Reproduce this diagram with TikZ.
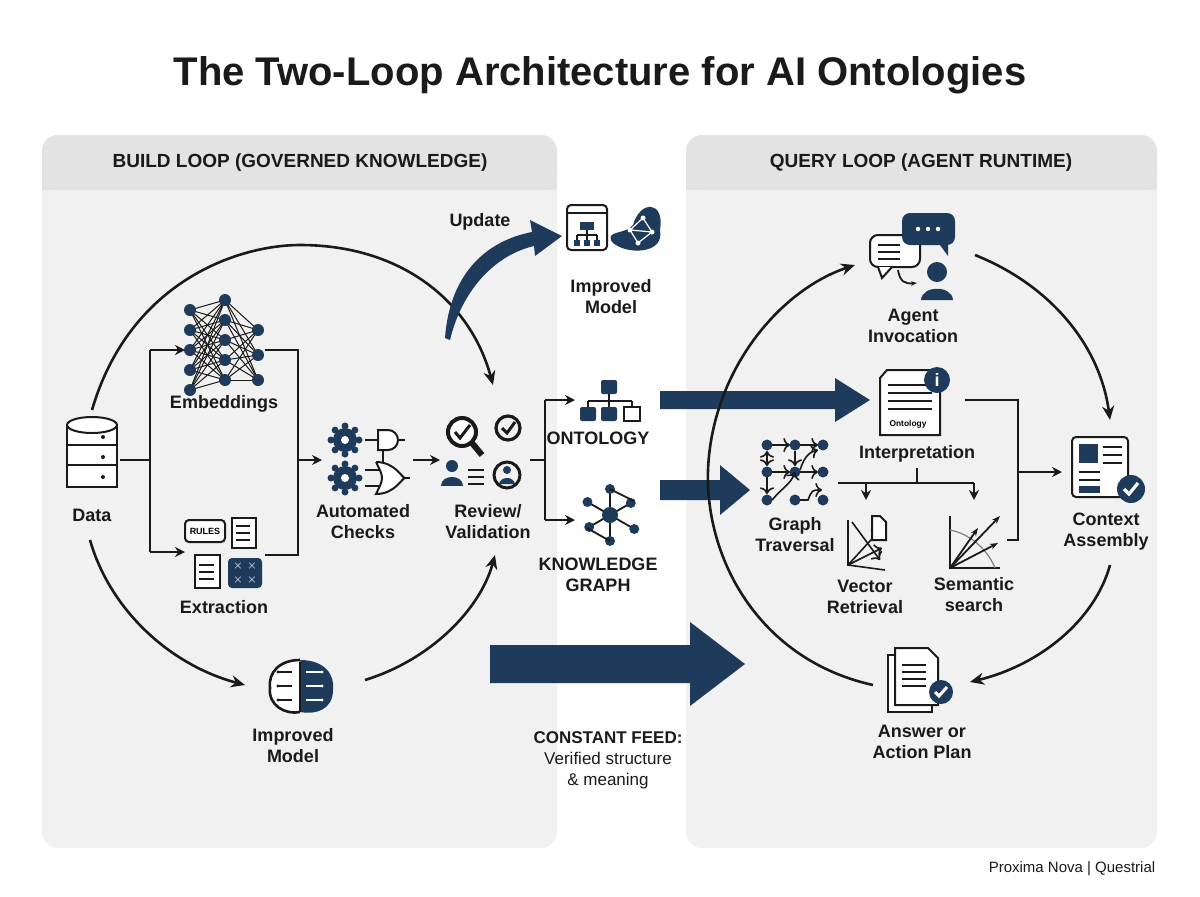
\documentclass[tikz,border=0pt]{standalone}
\usepackage{fontspec}
\setmainfont{Liberation Sans}
\usetikzlibrary{arrows.meta,calc}
\definecolor{navy}{HTML}{1F3B5C}
\definecolor{panel}{HTML}{F1F1F1}
\definecolor{head}{HTML}{E3E3E3}
\definecolor{ink}{HTML}{1A1A1A}
\begin{document}
\begin{tikzpicture}[x=0.5pt,y=-0.5pt,
  lab/.style={font=\fontsize{9}{10.5}\selectfont\bfseries,text=ink,align=center},
  hdr/.style={font=\fontsize{9.5}{11}\selectfont\bfseries,text=ink},
  loop/.style={draw=ink,line width=1.3pt,-{Stealth[length=7pt,width=6pt]}},
  con/.style={draw=ink,line width=1.1pt},
  cona/.style={con,-{Stealth[length=5pt,width=5pt]}},
  ic/.style={draw=ink,line width=1pt},
  big/.style={fill=navy,draw=none}]
\useasboundingbox (0,0) rectangle (1200,896);
\fill[white] (0,0) rectangle (1200,896);
\node[font=\fontsize{20}{24}\selectfont\bfseries,text=ink] (title) at (600,75) {The Two-Loop Architecture for AI Ontologies};
% panels
\fill[panel,rounded corners=8pt] (42,135) rectangle (557,848);
\fill[head,rounded corners=8pt] (42,135) rectangle (557,190);
\fill[head] (42,170) rectangle (557,190);
\fill[panel,rounded corners=8pt] (686,135) rectangle (1157,848);
\fill[head,rounded corners=8pt] (686,135) rectangle (1157,190);
\fill[head] (686,170) rectangle (1157,190);
\node[hdr] (h1) at (300,163) {BUILD LOOP (GOVERNED KNOWLEDGE)};
\node[hdr] (h2) at (921,163) {QUERY LOOP (AGENT RUNTIME)};

% ---------- left loop arcs
\draw[loop] (92,410) .. controls (130,280) and (240,245) .. (300,245) .. controls (400,245) and (470,300) .. (493,385);
\draw[loop] (90,540) .. controls (110,610) and (170,665) .. (245,685);
\draw[loop] (365,680) .. controls (430,660) and (480,610) .. (495,555);

% Data icon
\foreach \yy in {425,445,465}{\draw[ic,fill=white] (67,\yy) rectangle (117,\yy+22);}
\draw[ic,fill=white] (92,425) ellipse (25 and 8);
\foreach \yy in {437,457,477}\fill[ink] (103,\yy) circle (2);
\node[lab] (data) at (92,515) {Data};
% branch
\draw[con] (120,460) -- (150,460);
\draw[con] (150,350) -- (150,552);
\draw[cona] (150,350) -- (185,350);
\draw[cona] (150,552) -- (185,552);
% embeddings net
\foreach \a in {310,330,350,370,390}\foreach \b in {300,320,340,360,380}\draw[ink,line width=0.5pt](190,\a)--(225,\b);
\foreach \a in {300,320,340,360,380}\foreach \b in {330,355,380}\draw[ink,line width=0.5pt](225,\a)--(258,\b);
\foreach \y in {310,330,350,370,390}\fill[navy] (190,\y) circle (6);
\foreach \y in {300,320,340,360,380}\fill[navy] (225,\y) circle (6);
\foreach \y in {330,355,380}\fill[navy] (258,\y) circle (6);
\node[lab] (emb) at (224,404) {Embeddings};
% extraction icon
\draw[ic,fill=white,rounded corners=2pt] (185,520) rectangle (225,542);
\node[font=\fontsize{4.5}{5}\selectfont\bfseries] (rules) at (205,531) {RULES};
\draw[ic,fill=white] (232,518) rectangle (256,548);
\foreach \y in {526,533,540}\draw[ink,line width=0.7pt](236,\y)--(250,\y);
\draw[ic,fill=white] (195,555) rectangle (220,588);
\foreach \y in {565,572,579}\draw[ink,line width=0.7pt](199,\y)--(214,\y);
\fill[navy,rounded corners=2pt] (228,558) rectangle (262,588);
\foreach \px/\py in {238/566,252/566,238/580,252/580}\node[text=white,font=\tiny] at (\px,\py) {$\times$};
\node[lab] (ext) at (224,607) {Extraction};
% merge
\draw[con] (265,350) -- (298,350) -- (298,555) -- (265,555);
\draw[cona] (298,460) -- (322,460);
% gears icon
\foreach \gy in {440,478}{
  \fill[navy] (345,\gy) circle (12);
  \foreach \a in {0,45,...,315}\fill[navy] (345,\gy) ++(\a:14) circle (3.5);
  \fill[white] (345,\gy) circle (4);}
\draw[ic] (365,440) -- (378,440); \draw[ic,fill=white] (378,430) -- (388,430) arc (-90:90:10) -- (378,450) -- cycle; \draw[ic] (398,440)--(405,440);
\draw[ic] (365,470) -- (380,470); \draw[ic] (365,486) -- (380,486);
\draw[ic,fill=white] (376,462) .. controls (395,462) and (402,478) .. (405,478) .. controls (402,478) and (395,494) .. (376,494) .. controls (384,478) .. (376,462);
\draw[ic] (405,478)--(410,478); \draw[ic] (383,450)--(383,462);
\node[lab] (auto) at (363,522) {Automated\\Checks};
\draw[cona] (413,460) -- (440,460);
% review icon
\draw[ic,line width=2pt,fill=white] (462,432) circle (14);
\draw[ink,line width=1.5pt] (455,432)--(460,438)--(470,425);
\draw[ink,line width=3pt] (472,443)--(482,455);
\draw[ic,line width=1.6pt] (508,428) circle (12); \draw[ink,line width=1.5pt] (502,428)--(507,433)--(515,422);
\fill[navy] (452,466) circle (6); \fill[navy] (441,486) .. controls (441,474) and (463,474) .. (463,486) -- cycle;
\foreach \y in {470,477,484}\draw[ink,line width=1pt] (468,\y)--(484,\y);
\draw[ic,line width=1.5pt] (507,475) circle (13); \fill[navy] (507,470) circle (4); \fill[navy] (499,484) .. controls (500,476) and (514,476) .. (515,484) -- cycle;
\node[lab] (rev) at (488,522) {Review/\\Validation};
% split right
\draw[con] (530,460) -- (545,460);
\draw[con] (545,400) -- (545,520);
\draw[cona] (545,400) -- (575,400);
\draw[cona] (545,520) -- (575,520);
% ontology tree
\fill[navy,rounded corners=1pt] (601,380) rectangle (617,394);
\draw[ic] (609,394)--(609,401) (588,401)--(632,401) (588,401)--(588,407) (609,401)--(609,407) (632,401)--(632,407);
\foreach \x in {588,609}\fill[navy,rounded corners=1pt] (\x-8,407) rectangle (\x+8,421);
\draw[ic,fill=white] (624,407) rectangle (640,421);
\node[lab] (onto) at (598,438) {ONTOLOGY};
% KG
\foreach \a/\rr in {90/26,30/28,-30/24,-90/26,210/26,150/24}{\draw[ink,line width=0.9pt] (610,515) -- ++(\a:\rr); \fill[navy] (610,515) ++(\a:\rr) circle (5);}
\draw[ink,line width=0.9pt] (610,489)--(634,501) (610,541)--(587,528);
\fill[navy] (610,515) circle (8);
\node[lab] (kg) at (598,575) {KNOWLEDGE\\GRAPH};
% improved model top
\draw[ic,fill=white,rounded corners=2pt] (567,205) rectangle (607,250);
\draw[ic] (567,213)--(607,213);
\fill[navy] (580,222) rectangle (594,230);
\draw[ic] (587,230)--(587,235) (577,235)--(597,235) (577,235)--(577,240) (597,235)--(597,240) (587,235)--(587,240);
\foreach \x in {577,587,597}\fill[navy] (\x-3,240) rectangle (\x+3,246);
\fill[navy] (633,225) .. controls (640,200) and (665,200) .. (660,230) .. controls (665,255) and (625,255) .. (612,242) .. controls (605,230) and (625,235) .. (633,225);
\foreach \px/\py in {630/230,643/218,652/232,638/243}\fill[white] (\px,\py) circle (2.5);
\draw[white,line width=0.6pt] (630,230)--(643,218)--(652,232)--(638,243)--(630,230)--(652,232);
\node[lab] (imp1) at (611,297) {Improved\\Model};
% update arrow
\fill[navy] (445,338) .. controls (450,270) and (490,240) .. (532,232) -- (530,220) -- (562,236) -- (535,256) -- (534,246) .. controls (495,255) and (462,290) .. (450,340) -- cycle;
\node[lab] (upd) at (480,222) {Update};
% brain
\fill[navy] (300,660) .. controls (325,660) and (335,675) .. (333,690) .. controls (333,710) and (315,715) .. (300,712) -- cycle;
\draw[ic,line width=1.3pt,fill=white] (300,660) .. controls (280,660) and (268,672) .. (270,688) .. controls (268,705) and (285,715) .. (300,712);
\draw[ink,line width=0.8pt] (300,662)--(300,712);
\foreach \y in {672,686,700}{\draw[ink,line width=0.7pt] (278,\y)--(292,\y); \fill[ink] (278,\y) circle (1.6);}
\foreach \y in {672,686,700}{\draw[white,line width=0.7pt] (306,\y)--(322,\y); \fill[white] (322,\y) circle (1.6);}
\node[lab] (imp2) at (293,746) {Improved\\Model};

% big arrows
\fill[big] (660,391) -- (835,391) -- (835,378) -- (870,400) -- (835,422) -- (835,409) -- (660,409) -- cycle;
\fill[big] (660,480) -- (720,480) -- (720,465) -- (750,490) -- (720,515) -- (720,500) -- (660,500) -- cycle;
\fill[big] (490,645) -- (690,645) -- (690,622) -- (745,664) -- (690,706) -- (690,683) -- (490,683) -- cycle;
\node[font=\fontsize{8.5}{10.5}\selectfont,text=ink,align=center] (cf) at (608,760) {\textbf{CONSTANT FEED:}\\Verified structure\\\& meaning};

% ---------- right loop
\draw[loop] (975,255) .. controls (1050,285) and (1100,345) .. (1110,420);
\draw[loop] (1110,565) .. controls (1095,620) and (1040,665) .. (970,682);
\draw[loop] (873,685) .. controls (760,660) and (705,560) .. (708,470) .. controls (712,370) and (780,290) .. (855,265);
% agent icon
\draw[ic,fill=white,rounded corners=4pt] (870,235) rectangle (920,267);
\draw[ic,fill=white] (878,267)--(882,278)--(892,267);
\foreach \y in {245,252,259}\draw[ink,line width=0.8pt](878,\y)--(900,\y);
\fill[navy,rounded corners=4pt] (902,213) rectangle (955,245);
\fill[navy] (940,245)--(948,256)--(948,245);
\foreach \x in {918,928,938}\fill[white] (\x,229) circle (2.2);
\fill[navy] (937,272) circle (10); \fill[navy] (921,300) .. controls (922,285) and (952,285) .. (953,300) -- cycle;
\draw[ink,line width=0.9pt,-{Stealth[length=3pt]}] (898,270) .. controls (900,282) and (905,284) .. (917,283);
\node[lab] (agent) at (913,326) {Agent\\Invocation};
% interpretation doc
\draw[ic,fill=white] (887,370) -- (940,370) -- (940,435) -- (880,435) -- (880,378) -- cycle;
\foreach \y in {385,393,401,409}\draw[ink,line width=0.9pt](888,\y)--(932,\y);
\node[font=\fontsize{4.2}{5}\selectfont\bfseries] (ontl) at (908,424) {Ontology};
\fill[navy] (937,380) circle (13); \node[text=white,font=\fontsize{9}{9}\selectfont\bfseries] (ii) at (937,380) {i};
\node[lab] (interp) at (917,454) {Interpretation};
\draw[con] (965,400) -- (1018,400) -- (1018,540) -- (1007,540);
\draw[cona] (1018,472) -- (1062,472);
\draw[con] (917,468) -- (917,483);
\draw[con] (838,483) -- (974,483);
\draw[cona] (866,483) -- (866,500);
\draw[cona] (974,483) -- (974,500);
% graph traversal
\foreach \x in {767,795,823}\foreach \y in {445,472,500}\fill[navy] (\x,\y) circle (5.5);
\draw[ink,line width=0.8pt,->] (772,445)--(790,445); \draw[ink,line width=0.8pt,->] (800,445)--(818,445);
\draw[ink,line width=0.8pt,->] (772,472)--(790,472); \draw[ink,line width=0.8pt,->] (800,472)--(818,472);
\draw[ink,line width=0.8pt,<->] (767,451)--(767,466); \draw[ink,line width=0.8pt,->] (767,477)--(767,494);
\draw[ink,line width=0.8pt,->] (795,451)--(795,466);
\draw[ink,line width=0.8pt,->] (772,500) .. controls (785,485) and (790,485) .. (795,472);
\draw[ink,line width=0.8pt,->] (800,500) -- (808,500) .. controls (812,490) .. (822,490);
\draw[ink,line width=0.8pt,->] (800,470) .. controls (805,455) and (810,452) .. (818,450);
\node[lab] (gt) at (795,535) {Graph\\Traversal};
% vector retrieval
\draw[ink,line width=0.8pt] (848,520)--(848,565)--(885,570);
\draw[ink,line width=0.8pt,->] (848,565)--(880,530); \draw[ink,line width=0.8pt,->] (848,565)--(882,548); \draw[ink,line width=0.8pt,->] (852,522)--(880,560);
\draw[ic,fill=white] (872,516)--(880,516)--(886,522)--(886,540)--(872,540)--cycle;
\node[lab] (vr) at (865,597) {Vector\\Retrieval};
% semantic search
\draw[ink,line width=0.8pt] (950,516)--(950,568)--(1000,568);
\draw[gray,line width=0.6pt] (950,530) .. controls (975,535) and (990,555) .. (995,568);
\foreach \ex/\ey in {978/528,1000/516,998/543}\draw[ink,line width=0.9pt,-{Stealth[length=4pt]}] (950,568)--(\ex,\ey);
\node[lab] (ss) at (974,595) {Semantic\\search};
% context assembly
\draw[ic,fill=white,rounded corners=2pt] (1072,437) rectangle (1128,497);
\fill[navy] (1079,444) rectangle (1098,463);
\foreach \y in {447,455,463}\draw[ink,line width=0.8pt](1103,\y)--(1122,\y);
\foreach \y in {472,480}\draw[ink,line width=0.8pt](1079,\y)--(1100,\y);
\fill[navy] (1079,486) rectangle (1100,493);
\fill[navy] (1131,489) circle (14); \draw[white,line width=1.6pt] (1124,489)--(1129,494)--(1138,483);
\node[lab] (ctx) at (1106,532) {Context\\Assembly};
% answer
\draw[ic,fill=white] (888,655) rectangle (932,712);
\draw[ic,fill=white] (895,648) -- (928,648) -- (938,658) -- (938,705) -- (895,705) -- cycle;
\foreach \y in {665,672,679,686}\draw[ink,line width=0.8pt](902,\y)--(926,\y);
\fill[navy] (941,692) circle (12); \draw[white,line width=1.5pt] (935,692)--(939,696)--(947,687);
\node[lab] (ans) at (922,742) {Answer or\\Action Plan};
\node[font=\fontsize{7.5}{9}\selectfont,text=ink] (credit) at (1072,869) {Proxima Nova | Questrial};
\end{tikzpicture}
\end{document}
